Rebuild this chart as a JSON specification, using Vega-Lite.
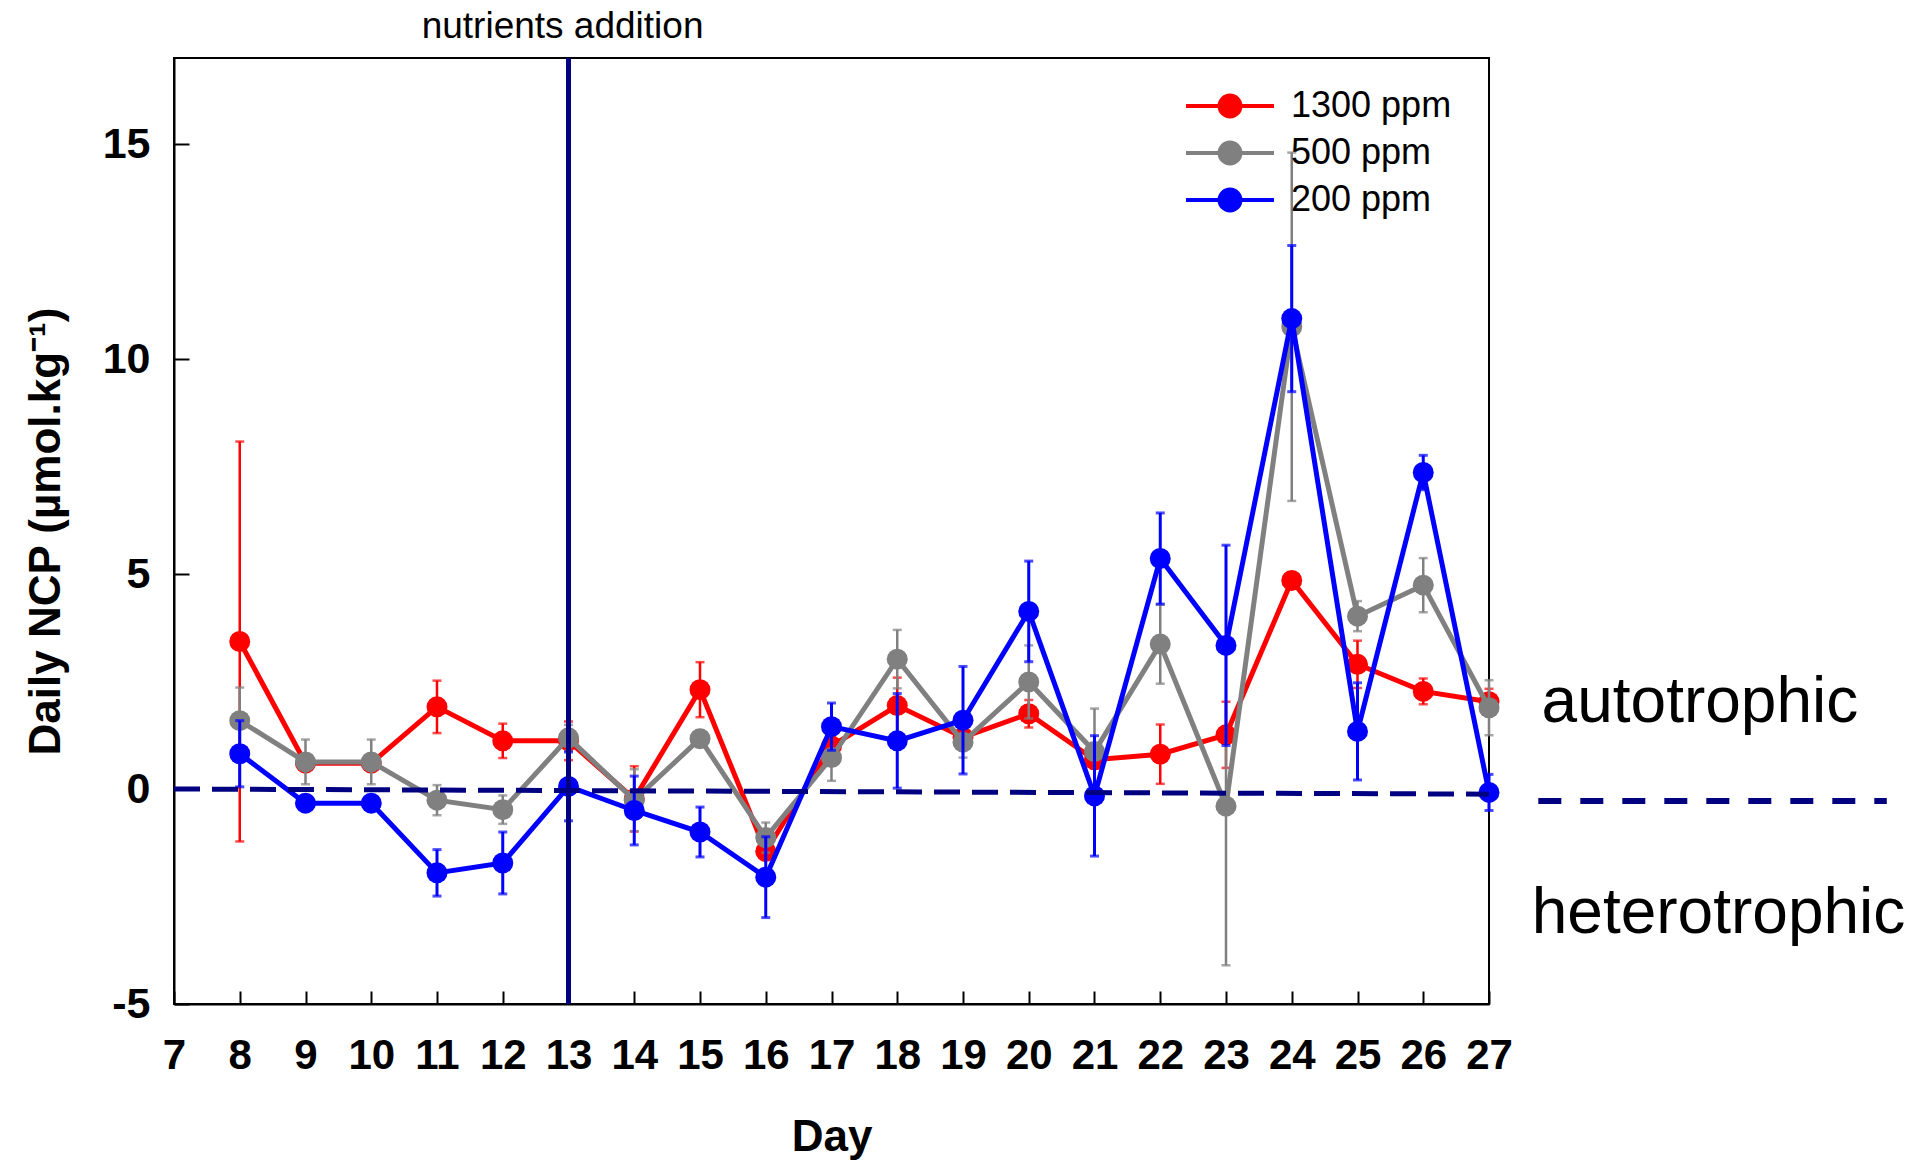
{
  "$schema": "https://vega.github.io/schema/vega-lite/v6.json",
  "autosize": {"type": "none"},
  "padding": {"left": 174, "top": 58, "right": 421, "bottom": 158},
  "width": 1315,
  "height": 946,
  "background": "white",
  "config": {
    "font": "Liberation Sans",
    "view": {"stroke": "black", "strokeWidth": 2},
    "axis": {
      "grid": false,
      "domainColor": "black",
      "domainWidth": 2,
      "tickColor": "black",
      "tickWidth": 2,
      "labelColor": "black",
      "titleColor": "black",
      "labelFont": "Liberation Sans",
      "titleFont": "Liberation Sans",
      "labelFontWeight": "bold",
      "titleFontWeight": "bold"
    }
  },
  "datasets": {
    "series": [
      {"s": "1300 ppm", "day": 8, "v": 3.43, "e": 4.65},
      {"s": "1300 ppm", "day": 9, "v": 0.6, "e": 0.1},
      {"s": "1300 ppm", "day": 10, "v": 0.6, "e": 0.1},
      {"s": "1300 ppm", "day": 11, "v": 1.91, "e": 0.61},
      {"s": "1300 ppm", "day": 12, "v": 1.12, "e": 0.4},
      {"s": "1300 ppm", "day": 13, "v": 1.12, "e": 0.45},
      {"s": "1300 ppm", "day": 14, "v": -0.23, "e": 0.76},
      {"s": "1300 ppm", "day": 15, "v": 2.31, "e": 0.64},
      {"s": "1300 ppm", "day": 16, "v": -1.45, "e": 0.2},
      {"s": "1300 ppm", "day": 17, "v": 1.0, "e": 0.2},
      {"s": "1300 ppm", "day": 18, "v": 1.94, "e": 0.65},
      {"s": "1300 ppm", "day": 19, "v": 1.2, "e": 0.2},
      {"s": "1300 ppm", "day": 20, "v": 1.75, "e": 0.32},
      {"s": "1300 ppm", "day": 21, "v": 0.68, "e": 0.2},
      {"s": "1300 ppm", "day": 22, "v": 0.81, "e": 0.69},
      {"s": "1300 ppm", "day": 23, "v": 1.26, "e": 0.77},
      {"s": "1300 ppm", "day": 24, "v": 4.85, "e": 0.1},
      {"s": "1300 ppm", "day": 25, "v": 2.9, "e": 0.55},
      {"s": "1300 ppm", "day": 26, "v": 2.27, "e": 0.3},
      {"s": "1300 ppm", "day": 27, "v": 2.03, "e": 0.3},
      {"s": "500 ppm", "day": 8, "v": 1.59, "e": 0.77},
      {"s": "500 ppm", "day": 9, "v": 0.63, "e": 0.52},
      {"s": "500 ppm", "day": 10, "v": 0.63, "e": 0.52},
      {"s": "500 ppm", "day": 11, "v": -0.26, "e": 0.35},
      {"s": "500 ppm", "day": 12, "v": -0.48, "e": 0.33},
      {"s": "500 ppm", "day": 13, "v": 1.19, "e": 0.3},
      {"s": "500 ppm", "day": 14, "v": -0.26, "e": 0.72},
      {"s": "500 ppm", "day": 15, "v": 1.17, "e": 0.2},
      {"s": "500 ppm", "day": 16, "v": -1.13, "e": 0.35},
      {"s": "500 ppm", "day": 17, "v": 0.73, "e": 0.54},
      {"s": "500 ppm", "day": 18, "v": 3.02, "e": 0.68},
      {"s": "500 ppm", "day": 19, "v": 1.09, "e": 0.36},
      {"s": "500 ppm", "day": 20, "v": 2.49, "e": 0.85},
      {"s": "500 ppm", "day": 21, "v": 0.87, "e": 1.0},
      {"s": "500 ppm", "day": 22, "v": 3.37, "e": 0.92},
      {"s": "500 ppm", "day": 23, "v": -0.4, "e": 3.7},
      {"s": "500 ppm", "day": 24, "v": 10.75, "e": 4.05},
      {"s": "500 ppm", "day": 25, "v": 4.02, "e": 0.35},
      {"s": "500 ppm", "day": 26, "v": 4.74, "e": 0.63},
      {"s": "500 ppm", "day": 27, "v": 1.89, "e": 0.64},
      {"s": "200 ppm", "day": 8, "v": 0.82, "e": 0.77},
      {"s": "200 ppm", "day": 9, "v": -0.33, "e": 0.1},
      {"s": "200 ppm", "day": 10, "v": -0.33, "e": 0.1},
      {"s": "200 ppm", "day": 11, "v": -1.95, "e": 0.54},
      {"s": "200 ppm", "day": 12, "v": -1.72, "e": 0.72},
      {"s": "200 ppm", "day": 13, "v": 0.06, "e": 0.8},
      {"s": "200 ppm", "day": 14, "v": -0.5, "e": 0.8},
      {"s": "200 ppm", "day": 15, "v": -1.0, "e": 0.58},
      {"s": "200 ppm", "day": 16, "v": -2.05, "e": 0.94},
      {"s": "200 ppm", "day": 17, "v": 1.45, "e": 0.55},
      {"s": "200 ppm", "day": 18, "v": 1.12, "e": 1.1},
      {"s": "200 ppm", "day": 19, "v": 1.6, "e": 1.25},
      {"s": "200 ppm", "day": 20, "v": 4.13, "e": 1.17},
      {"s": "200 ppm", "day": 21, "v": -0.16, "e": 1.4},
      {"s": "200 ppm", "day": 22, "v": 5.36, "e": 1.06},
      {"s": "200 ppm", "day": 23, "v": 3.34, "e": 2.33},
      {"s": "200 ppm", "day": 24, "v": 10.94, "e": 1.7},
      {"s": "200 ppm", "day": 25, "v": 1.34, "e": 1.13},
      {"s": "200 ppm", "day": 26, "v": 7.36, "e": 0.4},
      {"s": "200 ppm", "day": 27, "v": -0.08, "e": 0.42}
    ]
  },
  "encoding": {
    "x": {
      "field": "day",
      "type": "quantitative",
      "scale": {"domain": [7, 27], "nice": false, "zero": false},
      "axis": {
        "values": [7, 8, 9, 10, 11, 12, 13, 14, 15, 16, 17, 18, 19, 20, 21, 22, 23, 24, 25, 26, 27],
        "tickSize": -13,
        "labelFontSize": 42,
        "labelPadding": 44,
        "labelFlush": false,
        "labelOverlap": false,
        "title": "Day",
        "titleFontSize": 44,
        "titlePadding": 39
      }
    },
    "y": {
      "field": "v",
      "type": "quantitative",
      "scale": {"domain": [-5, 17], "nice": false, "zero": false},
      "axis": {
        "values": [-5, 0, 5, 10, 15],
        "labelExpr": "'' + datum.value",
        "tickSize": -15,
        "labelFontSize": 43,
        "labelPadding": 39,
        "labelFlush": false,
        "title": "Daily NCP (µmol.kg⁻¹)",
        "titleFontSize": 44,
        "titlePadding": 34
      }
    }
  },
  "layer": [
    {
      "data": {"name": "series"},
      "transform": [{"filter": "datum.s === '1300 ppm'"}],
      "encoding": {
        "color": {
          "field": "s",
          "type": "nominal",
          "scale": {"domain": ["1300 ppm", "500 ppm", "200 ppm"], "range": ["#FF0000", "#808080", "#0000FF"]},
          "legend": {
            "title": null,
            "orient": "none",
            "legendX": 1032,
            "legendY": 24,
            "direction": "vertical",
            "padding": 0,
            "symbolType": "M-2,0L2,0M-0.477,0A0.477,0.477,0,1,0,0.477,0A0.477,0.477,0,1,0,-0.477,0Z",
            "symbolSize": 1936,
            "symbolStrokeWidth": 4,
            "labelFontSize": 36,
            "labelFont": "Liberation Sans",
            "labelColor": "black",
            "labelLimit": 0,
            "labelOffset": 37,
            "rowPadding": 4,
            "encode": {
              "symbols": {
                "update": {
                  "fill": {"scale": "color", "field": "value"},
                  "stroke": {"scale": "color", "field": "value"},
                  "opacity": {"value": 1},
                  "fillOpacity": {"value": 1},
                  "strokeOpacity": {"value": 1}
                }
              }
            }
          }
        }
      },
      "layer": [
        {"mark": {"type": "errorbar", "ticks": {"size": 9}, "thickness": 2.5}, "encoding": {"yError": {"field": "e"}}},
        {"mark": {"type": "line", "strokeWidth": 5}, "encoding": {}},
        {"mark": {"type": "point", "filled": true, "size": 441, "opacity": 1}, "encoding": {}}
      ]
    },
    {
      "data": {"name": "series"},
      "transform": [{"filter": "datum.s === '500 ppm'"}],
      "encoding": {"color": {"field": "s", "type": "nominal"}},
      "layer": [
        {"mark": {"type": "errorbar", "ticks": {"size": 9}, "thickness": 2.5}, "encoding": {"yError": {"field": "e"}}},
        {"mark": {"type": "line", "strokeWidth": 5}, "encoding": {}},
        {"mark": {"type": "point", "filled": true, "size": 441, "opacity": 1}, "encoding": {}}
      ]
    },
    {
      "data": {"name": "series"},
      "transform": [{"filter": "datum.s === '200 ppm'"}],
      "encoding": {"color": {"field": "s", "type": "nominal"}},
      "layer": [
        {"mark": {"type": "errorbar", "ticks": {"size": 9}, "thickness": 3}, "encoding": {"yError": {"field": "e"}}},
        {"mark": {"type": "line", "strokeWidth": 5}, "encoding": {}},
        {"mark": {"type": "point", "filled": true, "size": 441, "opacity": 1}, "encoding": {}}
      ]
    },
    {
      "data": {"values": [{"day": 7, "v": 0}, {"day": 27, "v": -0.12}]},
      "mark": {"type": "line", "color": "#000080", "strokeWidth": 5, "strokeDash": [26, 12]},
      "encoding": {}
    },
    {
      "data": {"values": [{"day": 27.75, "v": -0.28}, {"day": 33.05, "v": -0.28}]},
      "mark": {"type": "line", "color": "#000080", "strokeWidth": 6, "strokeDash": [23, 19], "clip": false},
      "encoding": {}
    },
    {
      "data": {"values": [{"day": 13, "v": -5, "v2": 17}]},
      "mark": {"type": "rule", "color": "#000080", "strokeWidth": 5},
      "encoding": {"y2": {"field": "v2"}}
    },
    {
      "data": {"values": [{"day": 12.91, "v": 17.47, "label": "nutrients addition"}]},
      "mark": {"type": "text", "fontSize": 37, "align": "center", "baseline": "alphabetic", "color": "black", "font": "Liberation Sans"},
      "encoding": {"text": {"field": "label"}}
    },
    {
      "data": {"values": [{"day": 27.8, "v": 1.55, "label": "autotrophic"}, {"day": 27.65, "v": -3.36, "label": "heterotrophic"}]},
      "mark": {"type": "text", "fontSize": 64, "align": "left", "baseline": "alphabetic", "color": "black", "font": "Liberation Sans"},
      "encoding": {"text": {"field": "label"}}
    }
  ]
}
